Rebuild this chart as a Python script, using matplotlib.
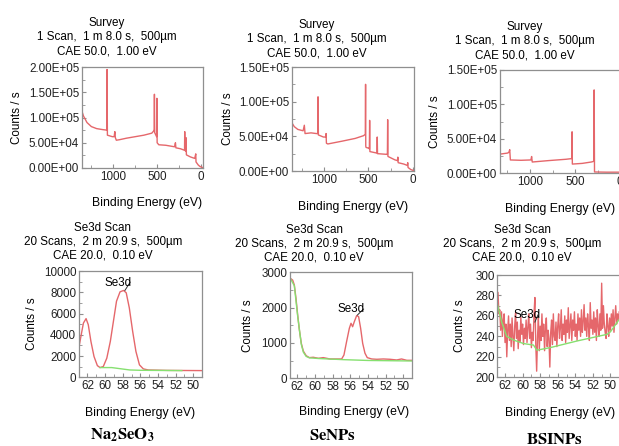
import numpy as np
import matplotlib
matplotlib.use("Agg")
import matplotlib.pyplot as plt
from matplotlib.ticker import MultipleLocator, FuncFormatter

plt.rcParams['font.family'] = ['Liberation Sans', 'DejaVu Sans']
plt.rcParams['mathtext.fontset'] = 'stix'

# survey spectra (binding energy eV, counts/s)
na_surv_be = [1357, 1340, 1300, 1250, 1190, 1120, 1075, 1071, 1067, 1010, 990, 982, 976, 965, 930,
              850, 750, 650, 560, 540, 533, 530, 527, 505, 502, 499, 480, 400, 300, 290, 285, 230,
              200, 186, 184, 181, 172, 169, 165, 120, 70, 58, 55, 30, 10, -19]
na_surv_cps = [1.12e5, 1.03e5, 9.0e4, 8.2e4, 7.8e4, 7.6e4, 7.5e4, 1.95e5, 6.5e4, 6.2e4, 6.2e4, 7.2e4,
               6.0e4, 5.5e4, 5.6e4, 5.9e4, 6.2e4, 6.5e4, 6.9e4, 7.3e4, 7.6e4, 1.46e5, 7.0e4, 6.2e4,
               1.38e5, 5.0e4, 4.6e4, 4.5e4, 4.2e4, 5.0e4, 4.0e4, 3.8e4, 3.6e4, 3.5e4, 7.2e4, 3.5e4,
               3.3e4, 6.0e4, 2.6e4, 2.2e4, 1.9e4, 2.8e4, 1.2e4, 6e3, 3e3, 1e3]

se_surv_be = [1369, 1340, 1300, 1240, 1226, 1218, 1150, 1090, 1074, 1071, 1067, 1010, 985, 980, 976,
              960, 800, 650, 555, 536, 533, 531, 528, 500, 490, 487, 484, 410, 404, 401, 398, 292,
              286, 283, 280, 200, 172, 168, 164, 100, 60, 56, 52, 20, -15]
se_surv_cps = [7.0e4, 6.4e4, 6.0e4, 5.8e4, 6.6e4, 5.4e4, 5.5e4, 5.4e4, 5.4e4, 1.07e5, 5.2e4, 4.9e4,
               4.9e4, 5.4e4, 4.0e4, 3.9e4, 4.3e4, 4.7e4, 5.1e4, 5.3e4, 1.25e5, 3.6e4, 3.4e4, 3.3e4,
               3.2e4, 7.3e4, 2.8e4, 2.6e4, 2.6e4, 4.9e4, 2.5e4, 2.4e4, 2.4e4, 7.4e4, 2.1e4, 1.6e4,
               1.5e4, 2.0e4, 1.2e4, 1.0e4, 8e3, 1.2e4, 5e3, 2e3, 500]

bs_surv_be = [1333, 1250, 1235, 1225, 1218, 1100, 990, 982, 975, 800, 600, 536, 533, 530, 420, 320,
              292, 288, 284, 150, -10]
bs_surv_cps = [2.75e4, 2.9e4, 3.0e4, 3.4e4, 1.9e4, 1.85e4, 1.9e4, 2.4e4, 1.6e4, 1.8e4, 2.0e4, 2.1e4,
               6.0e4, 1.3e4, 1.4e4, 1.6e4, 1.7e4, 1.21e5, 1.5e3, 1.2e3, 1.2e3]

# Se3d scans
na_se3d_be = [62.94, 62.7, 62.45, 62.15, 61.9, 61.6, 61.25, 60.87, 60.57, 60.2, 59.8, 59.4, 59.05,
              58.7, 58.3, 57.9, 57.6, 57.25, 56.87, 56.5, 56.1, 55.66, 55.1, 53.0, 51.0, 48.98]
na_se3d_cps = [2900, 4000, 5100, 5520, 4950, 3380, 1960, 1100, 915, 1010, 1800, 3380, 5270, 7160,
               8040, 8170, 7950, 6530, 4320, 2430, 1170, 790, 690, 650, 640, 630]
na_bg_be = [60.57, 59.25, 57.2, 56.04, 51.3]
na_bg_cps = [915, 915, 690, 660, 630]

se_se3d_be = [62.8, 62.53, 62.34, 62.15, 61.96, 61.77, 61.55, 61.32, 61.0, 60.64, 60.19, 59.62, 59.06,
              58.3, 57.55, 56.98, 56.72, 56.42, 56.11, 55.92, 55.74, 55.55, 55.28, 55.06, 54.83, 54.6,
              54.34, 54.08, 53.58, 53.0, 52.26, 51.5, 50.75, 50.2, 49.6, 48.98]
se_se3d_cps = [2830, 2780, 2640, 2260, 1790, 1370, 990, 770, 640, 585, 595, 566, 585, 547, 547, 547,
               660, 1040, 1415, 1557, 1460, 1600, 1775, 1745, 1415, 990, 710, 585, 547, 538, 547, 538,
               519, 547, 509, 509]
se_bg_be = [62.8, 62.34, 61.96, 61.55, 61.32, 61.0, 60.64, 59.6, 56.8, 54.0, 48.98]
se_bg_cps = [2830, 2620, 1760, 960, 740, 620, 580, 560, 528, 505, 490]

# BSINPs: 0.10 eV steps starting at 62.9 eV
bs_start, bs_step = 62.9, 0.1
bs_se3d_cps = [270, 283, 262, 266, 246, 264, 240, 256, 262, 234,
               252, 220, 246, 260, 236, 252, 230, 258, 240, 226,
               250, 263, 238, 254, 228, 246, 235, 259, 242, 252,
               232, 248, 238, 256, 234, 249, 262, 238, 252, 229,
               244, 236, 262, 278, 232, 206, 240, 258, 226, 250,
               236, 262, 240, 252, 226, 248, 258, 230, 246, 238,
               210, 244, 256, 232, 262, 240, 236, 254, 230, 250,
               262, 238, 248, 266, 236, 252, 242, 260, 234, 256,
               244, 268, 238, 250, 262, 236, 256, 246, 264, 240,
               252, 236, 262, 246, 258, 240, 266, 244, 254, 271,
               246, 258, 240, 262, 250, 236, 273, 248, 256, 242,
               264, 244, 258, 236, 266, 250, 240, 262, 246, 292,
               248, 270, 252, 244, 238, 262, 250, 240, 258, 246,
               262, 250, 266, 244, 258, 270, 252, 262, 256, 264]
bs_bg_be = [62.88, 62.38, 61.81, 61.05, 59.9, 58.76, 58.38, 56.86, 53.8, 50.38, 50.0, 48.97]
bs_bg_cps = [272, 254, 240, 236.5, 233, 231.5, 226.5, 229, 235.5, 242, 244.5, 257]

samples = ['$\\mathbf{Na_2SeO_3}$', '$\\mathbf{SeNPs}$', '$\\mathbf{BSINPs}$']
survey_title = ['Survey', '1 Scan,  1 m 8.0 s,  500µm', 'CAE 50.0,  1.00 eV']
se3d_title = ['Se3d Scan', '20 Scans,  2 m 20.9 s,  500µm', 'CAE 20.0,  0.10 eV']

RED = '#e5676b'
GREEN = '#86e070'
GREY = '#8f8f8f'
FS = 8.4
W, H = 619, 446

fig = plt.figure(figsize=(W/100, H/100), dpi=100)


def add_ax(l, t, r, b):
    ax = fig.add_axes([l/W, 1 - b/H, (r-l)/W, (b-t)/H])
    for sp in ax.spines.values():
        sp.set_color(GREY)
        sp.set_linewidth(0.9)
    ax.tick_params(which='both', direction='in', color=GREY, labelsize=FS, pad=2, labelcolor='#222222')
    ax.tick_params(which='major', length=3)
    ax.tick_params(which='minor', length=2.5)
    return ax


def ftext(x, y, s, **kw):
    fig.text(x/W, 1 - y/H, s, ha='center', va='center', **kw)


def labels(title, tx, ty, ylx, yly, xlx, xly):
    for i, line in enumerate(title):
        ftext(tx, ty + 14*i, line, fontsize=FS)
    ftext(ylx, yly, 'Counts / s', fontsize=FS, rotation=90)
    ftext(xlx, xly, 'Binding Energy (eV)', fontsize=8.8)


sci = FuncFormatter(lambda v, p: f"{v:.2E}")

#%% surveys
surv = [(na_surv_be, na_surv_cps, (82, 67, 202.5, 168), (1357, -19), 2e5, (107, 23, 17, 147, 203)),
        (se_surv_be, se_surv_cps, (291.7, 67, 414, 171), (1369, -15), 1.5e5, (317, 25, 228, 353, 207)),
        (bs_surv_be, bs_surv_cps, (500, 70, 621, 173), (1333, -10), 1.5e5, (525, 27, 435, 560, 209))]
for be, cps, rc, xl, ymax, pos in surv:
    ax = add_ax(*rc)
    ax.plot(be, cps, color=RED, lw=1.0)
    ax.set_xlim(*xl)
    ax.set_ylim(0, ymax)
    ax.xaxis.set_major_locator(MultipleLocator(500))
    ax.xaxis.set_minor_locator(MultipleLocator(250))
    ax.yaxis.set_major_locator(MultipleLocator(5e4))
    ax.yaxis.set_minor_locator(MultipleLocator(2.5e4))
    ax.yaxis.set_major_formatter(sci)
    tx, ty, ylx, xlx, xly = pos
    labels(survey_title, tx, ty, ylx, (rc[1]+rc[3])/2, xlx, xly)

#%% Se3d scans
bs_se3d_be = bs_start - bs_step*np.arange(len(bs_se3d_cps))
scans = [(na_se3d_be, na_se3d_cps, na_bg_be, na_bg_cps, (79, 271, 202.3, 377.3), (62.95, 48.98),
          (0, 10000, 2000, 1000), (60.1, 8900), [(57.75, 8170), (57.15, 8950)],
          (103, 228, 32, 140, 413), (122, 435)),
         (se_se3d_be, se_se3d_cps, se_bg_be, se_bg_cps, (290, 272.3, 412.3, 378.3), (62.83, 48.98),
          (0, 3000, 1000, 500), (57.45, 1950), [(55.2, 1790), (54.5, 1960)],
          (314, 230, 248, 354, 412), (332, 436)),
         (bs_se3d_be, bs_se3d_cps, bs_bg_be, bs_bg_cps, (497.3, 275, 619.5, 377.3), (62.88, 48.97),
          (200, 300, 20, 10), (61.05, 261), [(58.6, 254), (58.25, 261)],
          (522, 230, 460, 560, 413), (555, 439))]
for i, (be, cps, bbe, bcps, rc, xl, yt, tpos, mark, pos, cap) in enumerate(scans):
    ax = add_ax(*rc)
    ax.plot(be, cps, color=RED, lw=1.0)
    ax.plot(bbe, bcps, color=GREEN, lw=1.0)
    ax.set_xlim(*xl)
    ax.set_ylim(yt[0], yt[1])
    ax.xaxis.set_major_locator(MultipleLocator(2))
    ax.xaxis.set_minor_locator(MultipleLocator(1))
    ax.yaxis.set_major_locator(MultipleLocator(yt[2]))
    ax.yaxis.set_minor_locator(MultipleLocator(yt[3]))
    ax.text(tpos[0], tpos[1], 'Se3d', fontsize=FS, ha='left', va='center')
    ax.plot([m[0] for m in mark], [m[1] for m in mark], color='#333333', lw=0.7)
    tx, ty, ylx, xlx, xly = pos
    labels(se3d_title, tx, ty, ylx, (rc[1]+rc[3])/2, xlx, xly)
    ftext(cap[0], cap[1], samples[i], fontsize=12)

fig.savefig('out.png', dpi=100, facecolor='white')
